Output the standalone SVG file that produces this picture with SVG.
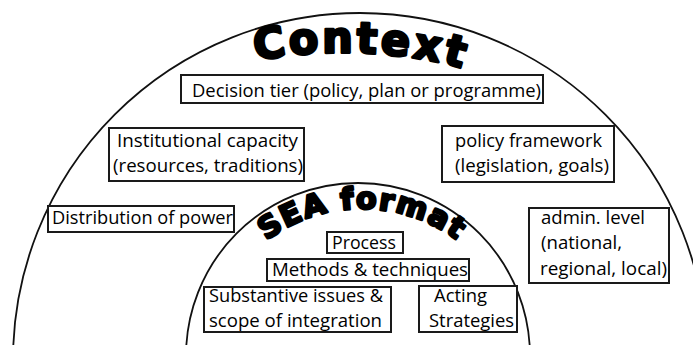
<svg xmlns="http://www.w3.org/2000/svg" width="693" height="345" viewBox="0 0 693 345">
  <style>
    .arc { fill: none; stroke: #111; stroke-width: 1.8; }
    .box { fill: #fff; stroke: #1a1a1a; stroke-width: 2; }
    .lbl { font-family: "Open Sans", "Liberation Sans", sans-serif; font-size: 18px; fill: #000; }
    .title { font-family: "DejaVu Sans", "Liberation Sans", sans-serif; font-weight: bold; fill: #000; stroke: #000; stroke-linejoin: round; }
  </style>
  <defs>
    <path id="ctxPath" d="M 252 62 C 300 49, 410 47, 478 74"/>
    <path id="seaPath" d="M 232 279 A 150 140 0 0 1 492 279"/>
  </defs>
  <rect width="693" height="345" fill="#fff"/>

  <g id="arcs">
    <circle class="arc" cx="360" cy="360" r="347"/>
    <ellipse class="arc" cx="358" cy="356" rx="172" ry="173"/>
  </g>

  <g id="context-title">
    <text class="title" font-size="43" stroke-width="2.8" letter-spacing="3"><textPath href="#ctxPath" startOffset="4">Context</textPath></text>
  </g>
  <g id="sea-title">
    <text class="title" font-size="30" stroke-width="2.6" letter-spacing="1.5" text-anchor="middle"><textPath href="#seaPath" startOffset="50%">SEA format</textPath></text>
  </g>

  <g id="decision-tier">
    <rect class="box" x="181" y="75" width="362" height="28"/>
    <text class="lbl" x="192" y="97" textLength="349" lengthAdjust="spacingAndGlyphs">Decision tier (policy, plan or programme)</text>
  </g>
  <g id="institutional-capacity">
    <rect class="box" x="109" y="128" width="195" height="53"/>
    <text class="lbl" x="117" y="147" textLength="181" lengthAdjust="spacingAndGlyphs">Institutional capacity</text>
    <text class="lbl" x="113" y="172" textLength="190" lengthAdjust="spacingAndGlyphs">(resources, traditions)</text>
  </g>
  <g id="distribution-of-power">
    <rect class="box" x="48" y="206" width="186" height="26"/>
    <text class="lbl" x="52" y="224" textLength="181" lengthAdjust="spacingAndGlyphs">Distribution of power</text>
  </g>
  <g id="policy-framework">
    <rect class="box" x="442" y="126" width="172" height="56"/>
    <text class="lbl" x="455" y="147" textLength="147" lengthAdjust="spacingAndGlyphs">policy framework</text>
    <text class="lbl" x="455" y="172" textLength="154" lengthAdjust="spacingAndGlyphs">(legislation, goals)</text>
  </g>
  <g id="admin-level">
    <rect class="box" x="529" y="208" width="140" height="75"/>
    <text class="lbl" x="541" y="224" textLength="104" lengthAdjust="spacingAndGlyphs">admin. level</text>
    <text class="lbl" x="541" y="249" textLength="81" lengthAdjust="spacingAndGlyphs">(national,</text>
    <text class="lbl" x="540" y="275" textLength="127" lengthAdjust="spacingAndGlyphs">regional, local)</text>
  </g>
  <g id="process">
    <rect class="box" x="327" y="232" width="76" height="21"/>
    <text class="lbl" x="332" y="249" textLength="64" lengthAdjust="spacingAndGlyphs">Process</text>
  </g>
  <g id="methods-techniques">
    <rect class="box" x="267" y="259" width="202" height="22"/>
    <text class="lbl" x="272" y="276" textLength="196" lengthAdjust="spacingAndGlyphs">Methods &amp; techniques</text>
  </g>
  <g id="substantive-issues">
    <rect class="box" x="204" y="287" width="187" height="45"/>
    <text class="lbl" x="209" y="302" textLength="174" lengthAdjust="spacingAndGlyphs">Substantive issues &amp;</text>
    <text class="lbl" x="209" y="327" textLength="173" lengthAdjust="spacingAndGlyphs">scope of integration</text>
  </g>
  <g id="acting-strategies">
    <rect class="box" x="419" y="286" width="98" height="46"/>
    <text class="lbl" x="434" y="302" textLength="53" lengthAdjust="spacingAndGlyphs">Acting</text>
    <text class="lbl" x="429" y="327" textLength="85" lengthAdjust="spacingAndGlyphs">Strategies</text>
  </g>
</svg>
